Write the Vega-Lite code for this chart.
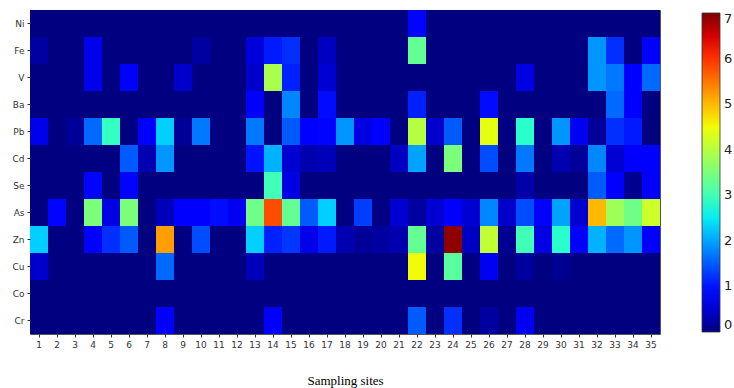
{
  "$schema": "https://vega.github.io/schema/vega-lite/v6.json",
  "autosize": {"type": "none"},
  "padding": {"left": 30, "top": 10, "right": 74, "bottom": 54},
  "width": 630,
  "height": 324,
  "background": "white",
  "config": {
    "view": {"stroke": "#555", "strokeWidth": 1},
    "axis": {"labelFont": "DejaVu Sans", "labelFontSize": 9, "labelColor": "#333", "tickColor": "#333", "tickSize": 3, "domain": false, "grid": false}
  },
  "data": {"values": [
    {"metal":"Ni","site":1,"value":0},{"metal":"Ni","site":2,"value":0},{"metal":"Ni","site":3,"value":0},{"metal":"Ni","site":4,"value":0},{"metal":"Ni","site":5,"value":0},{"metal":"Ni","site":6,"value":0},{"metal":"Ni","site":7,"value":0},{"metal":"Ni","site":8,"value":0},{"metal":"Ni","site":9,"value":0},{"metal":"Ni","site":10,"value":0},{"metal":"Ni","site":11,"value":0},{"metal":"Ni","site":12,"value":0},{"metal":"Ni","site":13,"value":0},{"metal":"Ni","site":14,"value":0},{"metal":"Ni","site":15,"value":0},{"metal":"Ni","site":16,"value":0},{"metal":"Ni","site":17,"value":0},{"metal":"Ni","site":18,"value":0},{"metal":"Ni","site":19,"value":0},{"metal":"Ni","site":20,"value":0},{"metal":"Ni","site":21,"value":0},{"metal":"Ni","site":22,"value":0.9},{"metal":"Ni","site":23,"value":0},{"metal":"Ni","site":24,"value":0},{"metal":"Ni","site":25,"value":0},{"metal":"Ni","site":26,"value":0},{"metal":"Ni","site":27,"value":0},{"metal":"Ni","site":28,"value":0},{"metal":"Ni","site":29,"value":0},{"metal":"Ni","site":30,"value":0},{"metal":"Ni","site":31,"value":0},{"metal":"Ni","site":32,"value":0},{"metal":"Ni","site":33,"value":0},{"metal":"Ni","site":34,"value":0},{"metal":"Ni","site":35,"value":0},
    {"metal":"Fe","site":1,"value":0.2},{"metal":"Fe","site":2,"value":0},{"metal":"Fe","site":3,"value":0},{"metal":"Fe","site":4,"value":0.65},{"metal":"Fe","site":5,"value":0},{"metal":"Fe","site":6,"value":0},{"metal":"Fe","site":7,"value":0},{"metal":"Fe","site":8,"value":0},{"metal":"Fe","site":9,"value":0},{"metal":"Fe","site":10,"value":0.2},{"metal":"Fe","site":11,"value":0},{"metal":"Fe","site":12,"value":0},{"metal":"Fe","site":13,"value":0.55},{"metal":"Fe","site":14,"value":1.05},{"metal":"Fe","site":15,"value":1.2},{"metal":"Fe","site":16,"value":0},{"metal":"Fe","site":17,"value":0.4},{"metal":"Fe","site":18,"value":0},{"metal":"Fe","site":19,"value":0},{"metal":"Fe","site":20,"value":0},{"metal":"Fe","site":21,"value":0},{"metal":"Fe","site":22,"value":3.3},{"metal":"Fe","site":23,"value":0},{"metal":"Fe","site":24,"value":0},{"metal":"Fe","site":25,"value":0},{"metal":"Fe","site":26,"value":0},{"metal":"Fe","site":27,"value":0},{"metal":"Fe","site":28,"value":0},{"metal":"Fe","site":29,"value":0},{"metal":"Fe","site":30,"value":0},{"metal":"Fe","site":31,"value":0},{"metal":"Fe","site":32,"value":1.9},{"metal":"Fe","site":33,"value":1.2},{"metal":"Fe","site":34,"value":0},{"metal":"Fe","site":35,"value":0.8},
    {"metal":"V","site":1,"value":0},{"metal":"V","site":2,"value":0},{"metal":"V","site":3,"value":0},{"metal":"V","site":4,"value":0.65},{"metal":"V","site":5,"value":0},{"metal":"V","site":6,"value":0.85},{"metal":"V","site":7,"value":0},{"metal":"V","site":8,"value":0},{"metal":"V","site":9,"value":0.45},{"metal":"V","site":10,"value":0},{"metal":"V","site":11,"value":0},{"metal":"V","site":12,"value":0},{"metal":"V","site":13,"value":0.45},{"metal":"V","site":14,"value":3.9},{"metal":"V","site":15,"value":1.1},{"metal":"V","site":16,"value":0},{"metal":"V","site":17,"value":0.5},{"metal":"V","site":18,"value":0},{"metal":"V","site":19,"value":0},{"metal":"V","site":20,"value":0},{"metal":"V","site":21,"value":0},{"metal":"V","site":22,"value":0},{"metal":"V","site":23,"value":0},{"metal":"V","site":24,"value":0},{"metal":"V","site":25,"value":0},{"metal":"V","site":26,"value":0},{"metal":"V","site":27,"value":0},{"metal":"V","site":28,"value":0.6},{"metal":"V","site":29,"value":0},{"metal":"V","site":30,"value":0},{"metal":"V","site":31,"value":0},{"metal":"V","site":32,"value":1.9},{"metal":"V","site":33,"value":1.7},{"metal":"V","site":34,"value":0.85},{"metal":"V","site":35,"value":1.6},
    {"metal":"Ba","site":1,"value":0},{"metal":"Ba","site":2,"value":0},{"metal":"Ba","site":3,"value":0},{"metal":"Ba","site":4,"value":0},{"metal":"Ba","site":5,"value":0},{"metal":"Ba","site":6,"value":0},{"metal":"Ba","site":7,"value":0},{"metal":"Ba","site":8,"value":0},{"metal":"Ba","site":9,"value":0},{"metal":"Ba","site":10,"value":0},{"metal":"Ba","site":11,"value":0},{"metal":"Ba","site":12,"value":0},{"metal":"Ba","site":13,"value":0.85},{"metal":"Ba","site":14,"value":0},{"metal":"Ba","site":15,"value":1.8},{"metal":"Ba","site":16,"value":0},{"metal":"Ba","site":17,"value":0.95},{"metal":"Ba","site":18,"value":0},{"metal":"Ba","site":19,"value":0},{"metal":"Ba","site":20,"value":0},{"metal":"Ba","site":21,"value":0},{"metal":"Ba","site":22,"value":1.1},{"metal":"Ba","site":23,"value":0},{"metal":"Ba","site":24,"value":0},{"metal":"Ba","site":25,"value":0},{"metal":"Ba","site":26,"value":0.95},{"metal":"Ba","site":27,"value":0},{"metal":"Ba","site":28,"value":0},{"metal":"Ba","site":29,"value":0},{"metal":"Ba","site":30,"value":0},{"metal":"Ba","site":31,"value":0},{"metal":"Ba","site":32,"value":0},{"metal":"Ba","site":33,"value":1.6},{"metal":"Ba","site":34,"value":0.75},{"metal":"Ba","site":35,"value":0},
    {"metal":"Pb","site":1,"value":0.65},{"metal":"Pb","site":2,"value":0},{"metal":"Pb","site":3,"value":0.15},{"metal":"Pb","site":4,"value":1.6},{"metal":"Pb","site":5,"value":2.9},{"metal":"Pb","site":6,"value":0},{"metal":"Pb","site":7,"value":0.8},{"metal":"Pb","site":8,"value":2.3},{"metal":"Pb","site":9,"value":0.15},{"metal":"Pb","site":10,"value":1.7},{"metal":"Pb","site":11,"value":0},{"metal":"Pb","site":12,"value":0},{"metal":"Pb","site":13,"value":1.7},{"metal":"Pb","site":14,"value":0},{"metal":"Pb","site":15,"value":1.5},{"metal":"Pb","site":16,"value":0.8},{"metal":"Pb","site":17,"value":0.9},{"metal":"Pb","site":18,"value":1.9},{"metal":"Pb","site":19,"value":0.6},{"metal":"Pb","site":20,"value":0.85},{"metal":"Pb","site":21,"value":0},{"metal":"Pb","site":22,"value":4.0},{"metal":"Pb","site":23,"value":0.45},{"metal":"Pb","site":24,"value":1.5},{"metal":"Pb","site":25,"value":0},{"metal":"Pb","site":26,"value":4.4},{"metal":"Pb","site":27,"value":0},{"metal":"Pb","site":28,"value":2.8},{"metal":"Pb","site":29,"value":0},{"metal":"Pb","site":30,"value":1.9},{"metal":"Pb","site":31,"value":0.7},{"metal":"Pb","site":32,"value":0.15},{"metal":"Pb","site":33,"value":1.2},{"metal":"Pb","site":34,"value":1.05},{"metal":"Pb","site":35,"value":0},
    {"metal":"Cd","site":1,"value":0},{"metal":"Cd","site":2,"value":0},{"metal":"Cd","site":3,"value":0},{"metal":"Cd","site":4,"value":0},{"metal":"Cd","site":5,"value":0},{"metal":"Cd","site":6,"value":1.5},{"metal":"Cd","site":7,"value":0.3},{"metal":"Cd","site":8,"value":1.9},{"metal":"Cd","site":9,"value":0},{"metal":"Cd","site":10,"value":0},{"metal":"Cd","site":11,"value":0},{"metal":"Cd","site":12,"value":0},{"metal":"Cd","site":13,"value":1.0},{"metal":"Cd","site":14,"value":2.1},{"metal":"Cd","site":15,"value":0.5},{"metal":"Cd","site":16,"value":0.3},{"metal":"Cd","site":17,"value":0.35},{"metal":"Cd","site":18,"value":0},{"metal":"Cd","site":19,"value":0},{"metal":"Cd","site":20,"value":0},{"metal":"Cd","site":21,"value":0.4},{"metal":"Cd","site":22,"value":2.0},{"metal":"Cd","site":23,"value":0},{"metal":"Cd","site":24,"value":3.5},{"metal":"Cd","site":25,"value":0},{"metal":"Cd","site":26,"value":1.4},{"metal":"Cd","site":27,"value":0},{"metal":"Cd","site":28,"value":1.7},{"metal":"Cd","site":29,"value":0},{"metal":"Cd","site":30,"value":0.3},{"metal":"Cd","site":31,"value":0.15},{"metal":"Cd","site":32,"value":1.8},{"metal":"Cd","site":33,"value":0.5},{"metal":"Cd","site":34,"value":0.75},{"metal":"Cd","site":35,"value":0.85},
    {"metal":"Se","site":1,"value":0},{"metal":"Se","site":2,"value":0},{"metal":"Se","site":3,"value":0},{"metal":"Se","site":4,"value":0.9},{"metal":"Se","site":5,"value":0},{"metal":"Se","site":6,"value":0.9},{"metal":"Se","site":7,"value":0},{"metal":"Se","site":8,"value":0},{"metal":"Se","site":9,"value":0},{"metal":"Se","site":10,"value":0},{"metal":"Se","site":11,"value":0},{"metal":"Se","site":12,"value":0},{"metal":"Se","site":13,"value":0},{"metal":"Se","site":14,"value":3.0},{"metal":"Se","site":15,"value":0.6},{"metal":"Se","site":16,"value":0},{"metal":"Se","site":17,"value":0},{"metal":"Se","site":18,"value":0},{"metal":"Se","site":19,"value":0},{"metal":"Se","site":20,"value":0},{"metal":"Se","site":21,"value":0},{"metal":"Se","site":22,"value":0},{"metal":"Se","site":23,"value":0},{"metal":"Se","site":24,"value":0},{"metal":"Se","site":25,"value":0},{"metal":"Se","site":26,"value":0},{"metal":"Se","site":27,"value":0},{"metal":"Se","site":28,"value":0.25},{"metal":"Se","site":29,"value":0},{"metal":"Se","site":30,"value":0},{"metal":"Se","site":31,"value":0},{"metal":"Se","site":32,"value":1.5},{"metal":"Se","site":33,"value":0.75},{"metal":"Se","site":34,"value":0.1},{"metal":"Se","site":35,"value":0.75},
    {"metal":"As","site":1,"value":0},{"metal":"As","site":2,"value":0.9},{"metal":"As","site":3,"value":0},{"metal":"As","site":4,"value":3.5},{"metal":"As","site":5,"value":0.6},{"metal":"As","site":6,"value":3.5},{"metal":"As","site":7,"value":0},{"metal":"As","site":8,"value":0.35},{"metal":"As","site":9,"value":0.8},{"metal":"As","site":10,"value":0.8},{"metal":"As","site":11,"value":0.95},{"metal":"As","site":12,"value":0.7},{"metal":"As","site":13,"value":3.4},{"metal":"As","site":14,"value":5.8},{"metal":"As","site":15,"value":3.3},{"metal":"As","site":16,"value":1.5},{"metal":"As","site":17,"value":2.3},{"metal":"As","site":18,"value":0},{"metal":"As","site":19,"value":1.3},{"metal":"As","site":20,"value":0},{"metal":"As","site":21,"value":0.5},{"metal":"As","site":22,"value":0.2},{"metal":"As","site":23,"value":0.5},{"metal":"As","site":24,"value":0.75},{"metal":"As","site":25,"value":0.5},{"metal":"As","site":26,"value":1.8},{"metal":"As","site":27,"value":0.45},{"metal":"As","site":28,"value":1.4},{"metal":"As","site":29,"value":0.75},{"metal":"As","site":30,"value":2.0},{"metal":"As","site":31,"value":0.5},{"metal":"As","site":32,"value":5.0},{"metal":"As","site":33,"value":3.8},{"metal":"As","site":34,"value":3.4},{"metal":"As","site":35,"value":4.2},
    {"metal":"Zn","site":1,"value":2.3},{"metal":"Zn","site":2,"value":0},{"metal":"Zn","site":3,"value":0},{"metal":"Zn","site":4,"value":0.85},{"metal":"Zn","site":5,"value":1.2},{"metal":"Zn","site":6,"value":1.5},{"metal":"Zn","site":7,"value":0},{"metal":"Zn","site":8,"value":5.2},{"metal":"Zn","site":9,"value":0},{"metal":"Zn","site":10,"value":1.4},{"metal":"Zn","site":11,"value":0},{"metal":"Zn","site":12,"value":0},{"metal":"Zn","site":13,"value":2.3},{"metal":"Zn","site":14,"value":1.1},{"metal":"Zn","site":15,"value":1.25},{"metal":"Zn","site":16,"value":0.65},{"metal":"Zn","site":17,"value":1.05},{"metal":"Zn","site":18,"value":0.3},{"metal":"Zn","site":19,"value":0.15},{"metal":"Zn","site":20,"value":0.2},{"metal":"Zn","site":21,"value":0.3},{"metal":"Zn","site":22,"value":3.3},{"metal":"Zn","site":23,"value":0.2},{"metal":"Zn","site":24,"value":6.9},{"metal":"Zn","site":25,"value":0.4},{"metal":"Zn","site":26,"value":4.1},{"metal":"Zn","site":27,"value":0.1},{"metal":"Zn","site":28,"value":3.0},{"metal":"Zn","site":29,"value":0.6},{"metal":"Zn","site":30,"value":2.8},{"metal":"Zn","site":31,"value":0.75},{"metal":"Zn","site":32,"value":2.1},{"metal":"Zn","site":33,"value":1.6},{"metal":"Zn","site":34,"value":1.9},{"metal":"Zn","site":35,"value":0.8},
    {"metal":"Cu","site":1,"value":0.45},{"metal":"Cu","site":2,"value":0},{"metal":"Cu","site":3,"value":0},{"metal":"Cu","site":4,"value":0},{"metal":"Cu","site":5,"value":0},{"metal":"Cu","site":6,"value":0},{"metal":"Cu","site":7,"value":0},{"metal":"Cu","site":8,"value":1.6},{"metal":"Cu","site":9,"value":0},{"metal":"Cu","site":10,"value":0},{"metal":"Cu","site":11,"value":0},{"metal":"Cu","site":12,"value":0},{"metal":"Cu","site":13,"value":0.35},{"metal":"Cu","site":14,"value":0},{"metal":"Cu","site":15,"value":0},{"metal":"Cu","site":16,"value":0},{"metal":"Cu","site":17,"value":0},{"metal":"Cu","site":18,"value":0},{"metal":"Cu","site":19,"value":0},{"metal":"Cu","site":20,"value":0},{"metal":"Cu","site":21,"value":0},{"metal":"Cu","site":22,"value":4.5},{"metal":"Cu","site":23,"value":0},{"metal":"Cu","site":24,"value":3.2},{"metal":"Cu","site":25,"value":0},{"metal":"Cu","site":26,"value":0.7},{"metal":"Cu","site":27,"value":0},{"metal":"Cu","site":28,"value":0.2},{"metal":"Cu","site":29,"value":0},{"metal":"Cu","site":30,"value":0.1},{"metal":"Cu","site":31,"value":0},{"metal":"Cu","site":32,"value":0},{"metal":"Cu","site":33,"value":0},{"metal":"Cu","site":34,"value":0},{"metal":"Cu","site":35,"value":0},
    {"metal":"Co","site":1,"value":0},{"metal":"Co","site":2,"value":0},{"metal":"Co","site":3,"value":0},{"metal":"Co","site":4,"value":0},{"metal":"Co","site":5,"value":0},{"metal":"Co","site":6,"value":0},{"metal":"Co","site":7,"value":0},{"metal":"Co","site":8,"value":0},{"metal":"Co","site":9,"value":0},{"metal":"Co","site":10,"value":0},{"metal":"Co","site":11,"value":0},{"metal":"Co","site":12,"value":0},{"metal":"Co","site":13,"value":0},{"metal":"Co","site":14,"value":0},{"metal":"Co","site":15,"value":0},{"metal":"Co","site":16,"value":0},{"metal":"Co","site":17,"value":0},{"metal":"Co","site":18,"value":0},{"metal":"Co","site":19,"value":0},{"metal":"Co","site":20,"value":0},{"metal":"Co","site":21,"value":0},{"metal":"Co","site":22,"value":0},{"metal":"Co","site":23,"value":0},{"metal":"Co","site":24,"value":0},{"metal":"Co","site":25,"value":0},{"metal":"Co","site":26,"value":0},{"metal":"Co","site":27,"value":0},{"metal":"Co","site":28,"value":0},{"metal":"Co","site":29,"value":0},{"metal":"Co","site":30,"value":0},{"metal":"Co","site":31,"value":0},{"metal":"Co","site":32,"value":0},{"metal":"Co","site":33,"value":0},{"metal":"Co","site":34,"value":0},{"metal":"Co","site":35,"value":0},
    {"metal":"Cr","site":1,"value":0},{"metal":"Cr","site":2,"value":0},{"metal":"Cr","site":3,"value":0},{"metal":"Cr","site":4,"value":0},{"metal":"Cr","site":5,"value":0},{"metal":"Cr","site":6,"value":0},{"metal":"Cr","site":7,"value":0},{"metal":"Cr","site":8,"value":0.75},{"metal":"Cr","site":9,"value":0},{"metal":"Cr","site":10,"value":0},{"metal":"Cr","site":11,"value":0},{"metal":"Cr","site":12,"value":0},{"metal":"Cr","site":13,"value":0},{"metal":"Cr","site":14,"value":0.75},{"metal":"Cr","site":15,"value":0},{"metal":"Cr","site":16,"value":0},{"metal":"Cr","site":17,"value":0},{"metal":"Cr","site":18,"value":0},{"metal":"Cr","site":19,"value":0},{"metal":"Cr","site":20,"value":0},{"metal":"Cr","site":21,"value":0},{"metal":"Cr","site":22,"value":1.5},{"metal":"Cr","site":23,"value":0},{"metal":"Cr","site":24,"value":1.2},{"metal":"Cr","site":25,"value":0},{"metal":"Cr","site":26,"value":0.2},{"metal":"Cr","site":27,"value":0},{"metal":"Cr","site":28,"value":0.7},{"metal":"Cr","site":29,"value":0},{"metal":"Cr","site":30,"value":0},{"metal":"Cr","site":31,"value":0},{"metal":"Cr","site":32,"value":0},{"metal":"Cr","site":33,"value":0},{"metal":"Cr","site":34,"value":0},{"metal":"Cr","site":35,"value":0}
  ]},
  "mark": {"type": "rect"},
  "encoding": {
    "x": {
      "field": "site", "type": "ordinal", "sort": "ascending",
      "scale": {"paddingInner": 0, "paddingOuter": 0},
      "axis": {"labelAngle": 0, "title": "Sampling sites", "titleFont": "Liberation Serif", "titleFontSize": 13, "titleFontWeight": "normal", "titleColor": "#000", "titlePadding": 25, "labelPadding": 3}
    },
    "y": {
      "field": "metal", "type": "nominal",
      "sort": ["Ni","Fe","V","Ba","Pb","Cd","Se","As","Zn","Cu","Co","Cr"],
      "scale": {"paddingInner": 0, "paddingOuter": 0},
      "axis": {"title": null, "labelPadding": 3}
    },
    "color": {
      "field": "value", "type": "quantitative",
      "scale": {
        "type": "linear",
        "domain": [0, 0.77, 0.875, 2.38, 2.45, 2.625, 4.48, 4.55, 4.62, 6.23, 6.37, 7],
        "range": ["#000080", "#0000ff", "#0000ff", "#00dbff", "#00e5f7", "#14ffe2", "#eeff08", "#f7f500", "#ffec00", "#ff1300", "#e80000", "#800000"],
        "interpolate": "rgb"
      },
      "legend": {
        "type": "gradient",
        "orient": "none", "legendX": 672, "legendY": 3,
        "direction": "vertical", "title": null,
        "gradientLength": 319, "gradientThickness": 18,
        "gradientStrokeColor": "#333", "gradientStrokeWidth": 0.8,
        "values": [0, 1, 2, 3, 4, 5, 6, 7],
        "labelFont": "DejaVu Sans", "labelFontSize": 13, "labelColor": "#222", "labelOffset": 4
      }
    }
  }
}
